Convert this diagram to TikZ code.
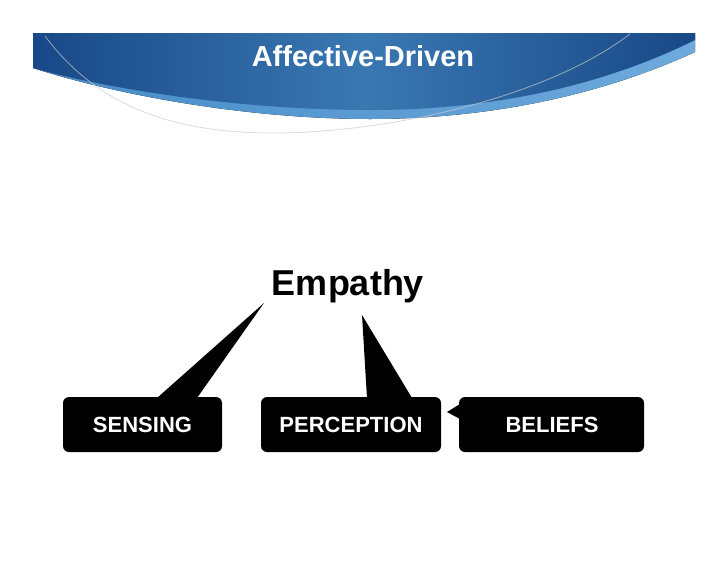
\documentclass[tikz,border=0pt]{standalone}
\usepackage{fontspec}
\setmainfont{Liberation Sans}
\begin{document}
\begin{tikzpicture}[x=1pt,y=-1pt,
  callout/.style={fill=black,rounded corners=6pt},
  lbl/.style={text=white,font=\fontsize{22}{24}\selectfont\bfseries},
  tail/.style={fill=black}]
\useasboundingbox (0,0) rectangle (728,563);
\fill[white] (0,0) rectangle (728,563);
% banner
\fill[left color={rgb,255:red,70;green,140;blue,200}, right color={rgb,255:red,110;green,170;blue,220}]
  (33,33) -- (695,33) -- (695,52) .. controls (580,105) and (460,119) .. (370,119)
  .. controls (250,119) and (120,96) .. (33,68) -- cycle;
\shade[left color={rgb,255:red,24;green,72;blue,135}, right color={rgb,255:red,24;green,72;blue,135}, middle color={rgb,255:red,58;green,120;blue,178}]
  (33,33) -- (695,33) -- (695,40) .. controls (580,97) and (460,110) .. (370,110)
  .. controls (250,110) and (120,92) .. (33,68) -- cycle;
\draw[gray!40, line width=0.8pt, opacity=0.7] (45,36) .. controls (100,110) and (180,134) .. (280,133)
  .. controls (400,131) and (550,95) .. (630,34);
\node[text=white, font=\fontsize{29}{32}\selectfont\bfseries] (title) at (363,56) {Affective-Driven};
% Empathy
\node[font=\fontsize{36}{40}\selectfont\bfseries] (emp) at (348,286) {Empathy};
% boxes
\fill[callout] (63,397) rectangle (222,452);
\fill[callout] (261,397) rectangle (441,452);
\fill[callout] (459,397) rectangle (644,452);
\node[lbl] (sensing) at (142.5,425) {SENSING};
\node[lbl] (perception) at (351,425) {PERCEPTION};
\node[lbl] (beliefs) at (552,425) {BELIEFS};
% tails
\coordinate (t1) at (264,303);
\coordinate (t2) at (362,315);
\coordinate (t3) at (447,412);
\fill[tail] (157,398) -- (t1) -- (197,398) -- cycle;
\fill[tail] (367,398) -- (t2) -- (412,398) -- cycle;
\fill[tail] (460,404) -- (t3) -- (460,419) -- cycle;
\end{tikzpicture}
\end{document}
